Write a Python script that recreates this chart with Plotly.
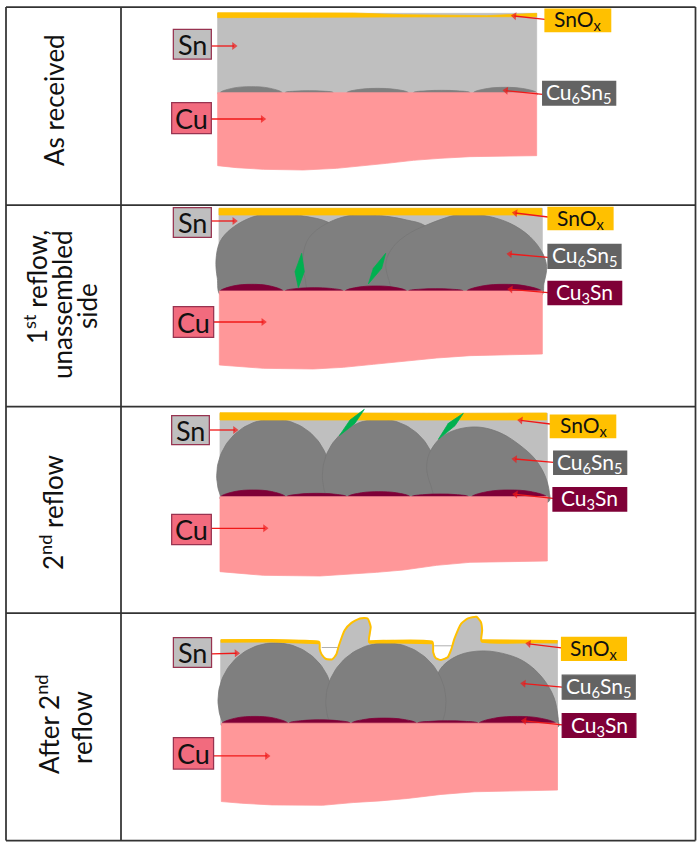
import numpy as np
import plotly.graph_objects as go

# All outlines are read from the picture. Each panel's values are (x, y) pairs
# measured in a magnified crop; PANEL_TOPS / PANEL_ZOOM give each crop's offset and scale.
CROP_LEFT = 120
PANEL_TOPS = [0, 205, 405, 610]
PANEL_ZOOM = [3, 3, 3, 2.96]

COL_SN = "#BFBFBF"
COL_CU = "#FF9799"
COL_OX = "#FFC000"
COL_IMC = "#7F7F7F"
COL_IMC_EDGE = "#767676"
COL_CU3 = "#7F0037"
COL_GREEN = "#00B050"
COL_LABEL_CU = "#F26B7E"
COL_LABEL_EDGE = "#973350"
COL_LABEL_IMC = "#636363"
COL_ARROW = "#F01818"
FONT = "Lato"

ROW_TEXTS = ["As received", "1<sup>st</sup> reflow,", "unassembled", "side", "2<sup>nd</sup> reflow", "After 2<sup>nd</sup>", "reflow"]
ROW_X = [54, 35, 62, 87, 51, 47, 82]
ROW_Y = [100, 287, 305, 306, 513, 724, 728]

TABLE_H = [7, 205, 406.5, 613, 840.5]
TABLE_V = [6, 121, 695.5]

# ---- panel 1 ----
SN_1 = [(293, 40), (1250, 40), (1250, 282), (293, 282)]
OX_1 = [(293, 38), (700, 39), (850, 44), (1100, 47), (1250, 40), (1250, 50), (800, 51), (293, 53)]
CU_1 = [(293, 278), (1250, 278), (1250, 467), (1150, 468), (1050, 470), (960, 475), (880, 481), (800, 490),
        (730, 498), (650, 505), (550, 510), (430, 508), (350, 503), (293, 497)]
CAPS_1 = [(300, 487, 260), (495, 640, 272), (680, 865, 265), (880, 1050, 271), (1060, 1250, 262)]
CAPBASE_1 = 278

# ---- panel 2 ----
SN_2 = [(297, 10), (1267, 10), (1267, 262), (297, 262)]
OX_2 = [(297, 10), (1265, 10), (1265, 30), (297, 30)]
CU_2 = [(298, 258), (1267, 258), (1267, 447), (1160, 449), (1050, 452), (950, 459), (850, 470), (760, 478),
        (670, 487), (580, 492), (430, 490), (350, 485), (298, 480)]
BLOBS_2 = [
    [(305, 275), (292, 220), (288, 165), (300, 110), (335, 70), (400, 35), (475, 24), (550, 33), (625, 52),
     (680, 100), (680, 200), (620, 275)],
    [(575, 275), (555, 220), (548, 170), (560, 110), (590, 75), (650, 42), (720, 28), (800, 34), (860, 45), (915, 62),
     (960, 120), (960, 220), (900, 275)],
    [(835, 275), (805, 220), (798, 170), (820, 125), (860, 90), (915, 62), (1020, 28), (1100, 33), (1170, 55),
     (1230, 95), (1268, 145), (1280, 185), (1272, 235), (1262, 275)],
]
CAPS_2 = [(300, 490, 238), (495, 670, 248), (675, 860, 243), (865, 1030, 251), (1040, 1265, 238)]
CAPBASE_2 = 258
LEAVES_2 = [
    [(535, 248), (525, 200), (545, 145), (553, 200)],
    [(745, 237), (760, 190), (797, 145), (785, 190)],
]

# ---- panel 3 ----
SN_3 = [(300, 25), (1282, 25), (1282, 280), (300, 280)]
OX_3 = [(300, 23), (700, 25), (1000, 25), (1280, 24), (1280, 45), (700, 45), (300, 45)]
CU_3 = [(300, 275), (1282, 275), (1282, 468), (1170, 469), (1050, 472), (950, 481), (850, 495), (770, 502),
        (690, 508), (600, 513), (430, 511), (350, 505), (300, 500)]
# near-round grains: centre x, centre y, radius x, radius y
ROUND_3 = [(460, 212, 170, 170), (778, 212, 171, 170)]
BLOB_3C = [(955, 285), (932, 240), (920, 190), (928, 145), (960, 100), (1000, 77), (1055, 66), (1100, 70), (1150, 88),
           (1200, 121), (1245, 162), (1275, 212), (1288, 262), (1286, 290)]
CAPS_3 = [(302, 497, 255), (500, 680, 265), (683, 870, 260), (875, 1045, 267), (1055, 1280, 255)]
CAPBASE_3 = 275
LEAVES_3 = [
    [(658, 92), (690, 45), (733, 13), (705, 55)],
    [(955, 103), (985, 55), (1030, 25), (1005, 62)],
]

# ---- panel 4 ----
TOP_4 = [(298, 90), (450, 90), (590, 95), (591, 115), (597, 132), (610, 145), (628, 146), (640, 132),
         (648, 105), (665, 60), (685, 38), (710, 25), (733, 25), (742, 50), (737, 95),
         (780, 92), (925, 95), (927, 125), (935, 143), (950, 148), (970, 140), (980, 118),
         (990, 85), (1010, 40), (1030, 25), (1055, 20), (1068, 35), (1072, 60), (1070, 92), (1295, 92)]
SN_4_BOTTOM = [(1295, 340), (298, 340)]
NOTCH_LINES_4 = [[(597, 111), (645, 111)], [(930, 106), (985, 106)]]
OX_THICK_4 = [[(298, 92), (450, 91), (590, 96)], [(737, 95), (780, 93), (925, 96)], [(1070, 92), (1295, 94)]]
CU_4 = [(300, 335), (1295, 335), (1295, 533), (1170, 535), (1050, 538), (950, 546), (850, 558), (770, 565),
        (690, 570), (600, 578), (450, 577), (360, 572), (300, 567)]
ROUND_4 = [(460, 267, 170, 170), (787, 272, 178, 175)]
BLOB_4C = [(960, 345), (935, 270), (945, 180), (1000, 135), (1075, 121), (1150, 133), (1200, 155), (1250, 200),
           (1285, 260), (1298, 330), (1298, 345)]
CAPS_4 = [(302, 497, 315), (500, 682, 325), (685, 878, 320), (880, 1060, 328), (1062, 1290, 315)]
CAPBASE_4 = 335

LABEL_SN = "Sn"
LABEL_CU = "Cu"
LABEL_OX = "SnO<sub>x</sub>"
LABEL_C6 = "Cu<sub>6</sub>Sn<sub>5</sub>"
LABEL_C3 = "Cu<sub>3</sub>Sn"

BOXES = [
    [("sn", (160, 88, 274, 177)), ("cu", (155, 308, 274, 401)), ("ox", (1275, 27, 1472, 95)), ("c6", (1268, 244, 1487, 315))],
    [("sn", (160, 8, 274, 97)), ("cu", (160, 305, 281, 397)), ("ox", (1284, 7, 1479, 74)), ("c6", (1284, 118, 1503, 190)), ("c3", (1284, 229, 1505, 299))],
    [("sn", (155, 32, 268, 119)), ("cu", (155, 328, 274, 419)), ("ox", (1291, 30, 1487, 98)), ("c6", (1301, 138, 1520, 208)), ("c3", (1299, 248, 1520, 318))],
    [("sn", (158, 82, 271, 170)), ("cu", (158, 378, 277, 471)), ("ox", (1307, 81, 1499, 149)), ("c6", (1309, 193, 1525, 264)), ("c3", (1309, 307, 1527, 377))],
]
ARROWS = [
    [(274, 138, 342, 138), (274, 357, 428, 357), (1275, 58, 1183, 48), (1268, 283, 1158, 272)],
    [(274, 48, 343, 48), (281, 351, 430, 351), (1284, 36, 1186, 24), (1284, 157, 1170, 147), (1284, 263, 1172, 253)],
    [(270, 75, 345, 75), (274, 370, 435, 370), (1291, 57, 1202, 46), (1301, 172, 1185, 162), (1299, 280, 1187, 268)],
    [(271, 130, 345, 128), (277, 432, 435, 432), (1307, 112, 1210, 100), (1309, 228, 1195, 218), (1309, 340, 1197, 328)],
]

STYLE = {
    "sn": (LABEL_SN, COL_SN, COL_LABEL_EDGE, "#111111", 27),
    "cu": (LABEL_CU, COL_LABEL_CU, COL_LABEL_EDGE, "#111111", 27),
    "ox": (LABEL_OX, COL_OX, COL_OX, "#111111", 21),
    "c6": (LABEL_C6, COL_LABEL_IMC, COL_LABEL_IMC, "#FFFFFF", 21),
    "c3": (LABEL_C3, COL_CU3, COL_CU3, "#FFFFFF", 21),
}


def px(panel, x):
    return CROP_LEFT + x / PANEL_ZOOM[panel]


def py(panel, y):
    return PANEL_TOPS[panel] + y / PANEL_ZOOM[panel]


fig = go.Figure()


def poly(panel, pts, color, smooth=False, edge=None):
    pts = list(pts) + [pts[0]]
    fig.add_trace(go.Scatter(
        x=[px(panel, p[0]) for p in pts],
        y=[py(panel, p[1]) for p in pts],
        mode="lines",
        fill="toself",
        fillcolor=color,
        line=dict(color=edge or color, width=0.75, shape="spline" if smooth else "linear", smoothing=1.0),
        hoverinfo="skip",
        showlegend=False,
    ))


def stroke(panel, pts, color, width, smooth=False):
    fig.add_trace(go.Scatter(
        x=[px(panel, p[0]) for p in pts],
        y=[py(panel, p[1]) for p in pts],
        mode="lines",
        line=dict(color=color, width=width, shape="spline" if smooth else "linear", smoothing=0.5),
        hoverinfo="skip",
        showlegend=False,
    ))


def caps(panel, items, base, color):
    for xl, xr, top in items:
        w, h = xr - xl, base - top
        outline = [(xl, base), (xl + w * 0.22, base - h * 0.78), (xl + w * 0.5, top),
                   (xr - w * 0.22, base - h * 0.78), (xr, base), (xr, base + 8), (xl, base + 8)]
        poly(panel, outline, color, smooth=True)


def round_grain(panel, item):
    cx, cy, rx, ry = item
    t = np.linspace(0, 2 * np.pi, 121)
    poly(panel, list(zip(cx + rx * np.cos(t), cy + ry * np.sin(t))), COL_IMC, edge=COL_IMC_EDGE)


# panel 1
poly(0, SN_1, COL_SN)
caps(0, CAPS_1, CAPBASE_1, COL_IMC)
poly(0, OX_1, COL_OX)
poly(0, CU_1, COL_CU)

# panel 2
poly(1, SN_2, COL_SN)
for b in BLOBS_2:
    poly(1, b, COL_IMC, smooth=True, edge=COL_IMC_EDGE)
poly(1, OX_2, COL_OX)
caps(1, CAPS_2, CAPBASE_2, COL_CU3)
poly(1, CU_2, COL_CU)
for leaf in LEAVES_2:
    poly(1, leaf, COL_GREEN)

# panel 3
poly(2, SN_3, COL_SN)
for r in ROUND_3:
    round_grain(2, r)
poly(2, BLOB_3C, COL_IMC, smooth=True, edge=COL_IMC_EDGE)
poly(2, OX_3, COL_OX)
caps(2, CAPS_3, CAPBASE_3, COL_CU3)
poly(2, CU_3, COL_CU)
for leaf in LEAVES_3:
    poly(2, leaf, COL_GREEN)

# panel 4
poly(3, TOP_4 + SN_4_BOTTOM, COL_SN)
for seg in NOTCH_LINES_4:
    stroke(3, seg, "#B0B0B0", 1)
round_grain(3, ROUND_4[0])
poly(3, BLOB_4C, COL_IMC, smooth=True, edge=COL_IMC_EDGE)
round_grain(3, ROUND_4[1])
stroke(3, TOP_4, COL_OX, 2, smooth=True)
for seg in OX_THICK_4:
    stroke(3, seg, COL_OX, 3.5)
caps(3, CAPS_4, CAPBASE_4, COL_CU3)
poly(3, CU_4, COL_CU)

# arrows
for panel, row in enumerate(ARROWS):
    for x0, y0, x1, y1 in row:
        fig.add_trace(go.Scatter(
            x=[px(panel, x0), px(panel, x1)], y=[py(panel, y0), py(panel, y1)],
            mode="lines+markers",
            line=dict(color=COL_ARROW, width=1.3),
            marker=dict(symbol="triangle-up", size=[0, 7], color=COL_ARROW, angleref="previous", line=dict(width=0)),
            hoverinfo="skip", showlegend=False,
        ))

shapes = []
annotations = []

# table rules
for y in TABLE_H:
    shapes.append(dict(type="line", xref="x", yref="y", x0=TABLE_V[0], x1=TABLE_V[-1], y0=y, y1=y,
                       line=dict(color="#333333", width=1.75)))
for x in TABLE_V:
    shapes.append(dict(type="line", xref="x", yref="y", x0=x, x1=x, y0=TABLE_H[0], y1=TABLE_H[-1],
                       line=dict(color="#333333", width=1.75)))

# row labels
for text, x, y in zip(ROW_TEXTS, ROW_X, ROW_Y):
    annotations.append(dict(x=x, y=y, xref="x", yref="y", text=text, textangle=-90, showarrow=False,
                            align="center", font=dict(family=FONT, size=26, color="#111111")))

# boxed labels
for panel, row in enumerate(BOXES):
    for kind, (x0, y0, x1, y1) in row:
        text, fill, edge, tcolor, size = STYLE[kind]
        shapes.append(dict(type="rect", xref="x", yref="y", layer="above",
                           x0=px(panel, x0), x1=px(panel, x1), y0=py(panel, y0), y1=py(panel, y1),
                           fillcolor=fill, line=dict(color=edge, width=1.25)))
        annotations.append(dict(x=px(panel, (x0 + x1) / 2), y=py(panel, (y0 + y1) / 2), xref="x", yref="y",
                                text=text, showarrow=False, font=dict(family=FONT, size=size, color=tcolor)))

fig.update_layout(
    width=700, height=845, margin=dict(l=0, r=0, t=0, b=0),
    paper_bgcolor="white", plot_bgcolor="white", showlegend=False,
    xaxis=dict(range=[0, 700], visible=False, fixedrange=True),
    yaxis=dict(range=[845, 0], visible=False, fixedrange=True),
    shapes=shapes, annotations=annotations,
)
fig.write_html("out.html", config={"displayModeBar": False},
               post_script="document.body.style.margin='0';document.body.style.overflow='hidden';")
